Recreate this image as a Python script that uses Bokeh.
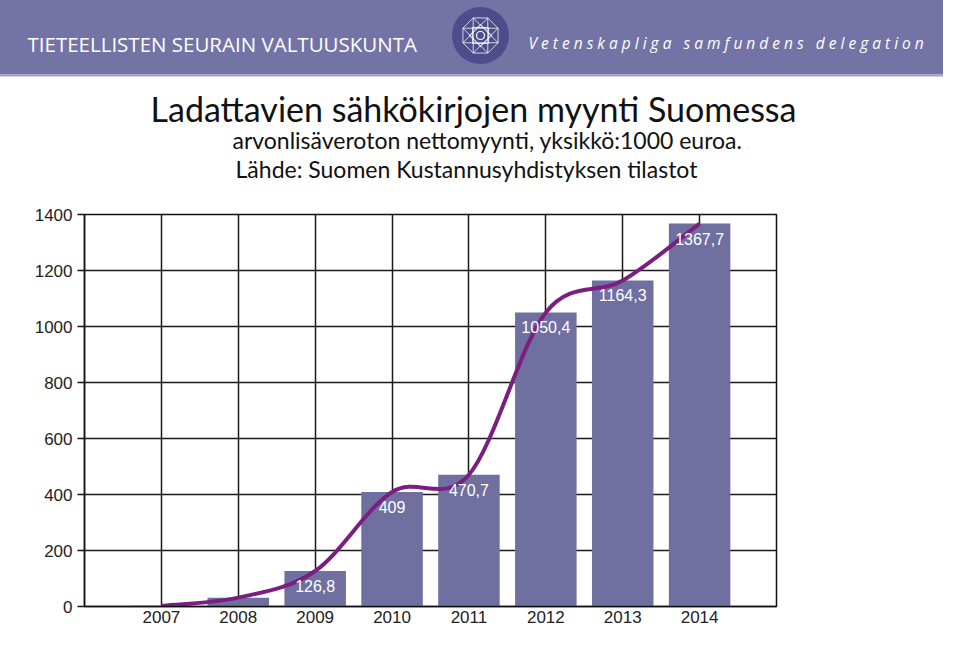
import math
from bokeh.plotting import figure
from bokeh.models import Range1d, FixedTicker, ColumnDataSource
from bokeh.core.properties import value
from bokeh.embed import file_html
from bokeh.resources import INLINE

# ---------------- data ----------------
years = [2007, 2008, 2009, 2010, 2011, 2012, 2013, 2014]
sales = [2.5, 31.6, 126.8, 409.0, 470.7, 1050.4, 1164.3, 1367.7]
bar_labels = ["", "", "126,8", "409", "470,7", "1050,4", "1164,3", "1367,7"]
year_labels = [str(y) for y in years]
y_ticks = [0, 200, 400, 600, 800, 1000, 1200, 1400]

title_text = "Ladattavien sähkökirjojen myynti Suomessa"
subtitle1 = "arvonlisäveroton nettomyynti, yksikkö:1000 euroa."
subtitle2 = "Lähde: Suomen Kustannusyhdistyksen tilastot"
org_fi = "TIETEELLISTEN SEURAIN VALTUUSKUNTA"
GAP = "\u00a0\u00a0\u00a0"
org_sv = GAP.join(" ".join(w) for w in ["Vetenskapliga", "samfundens", "delegation"])

BAND = "#7473A6"
LOGO = "#4E4D8C"
BAR = "#6F6FA0"
LINE = "#7A1F80"

W, H = 943, 629
FL, FR, FT, FB = 84, 776, 214, 606   # frame edges in canvas pixels
p = figure(width=W, height=H, x_range=Range1d(2006, 2015), y_range=Range1d(0, 1400),
           output_backend="svg", toolbar_location=None,
           min_border_left=FL, min_border_right=W - FR, min_border_top=FT, min_border_bottom=H - FB,
           background_fill_color="white", border_fill_color="white")
# canvas-pixel coordinate system for the header
p.extra_x_ranges = {"page": Range1d(FL, FR)}
p.extra_y_ranges = {"page": Range1d(FB, FT)}
PG = dict(x_range_name="page", y_range_name="page", level="overlay")

# ---------------- header ----------------
p.quad(left=[-10], right=[960], top=[-10], bottom=[74], fill_color=BAND, line_color=None, **PG)
p.quad(left=[-10], right=[960], top=[74], bottom=[76], fill_color="#A3A2C6", line_color=None, **PG)
p.ellipse(x=[480], y=[35], width=57, height=57, fill_color=LOGO, line_color=None, **PG)
cx, cy, r = 480, 35, 19
verts = [(cx + r * math.cos(math.radians(22.5 + 45 * k)), cy + r * math.sin(math.radians(22.5 + 45 * k))) for k in range(8)]
xs, ys = [], []
xs.append([v[0] for v in verts] + [verts[0][0]])
ys.append([v[1] for v in verts] + [verts[0][1]])
for k in range(8):
    a, b = verts[k], verts[(k + 3) % 8]
    xs.append([a[0], b[0]]); ys.append([a[1], b[1]])
sq = 8
xs.append([cx - sq, cx + sq, cx + sq, cx - sq, cx - sq]); ys.append([cy - sq, cy - sq, cy + sq, cy + sq, cy - sq])
xs.append([cx, cx + sq * 1.4, cx, cx - sq * 1.4, cx]); ys.append([cy - sq * 1.4, cy, cy + sq * 1.4, cy, cy - sq * 1.4])
p.multi_line(xs=xs, ys=ys, line_color="white", line_width=0.9, line_alpha=0.85, **PG)
p.ellipse(x=[cx], y=[cy], width=8, height=8, fill_color=None, line_color="white", line_width=1.2, **PG)

p.text(x=[27], y=[43], text=[org_fi], text_font=value("Open Sans"), text_font_size="20.5px",
       text_color="white", text_baseline="alphabetic", text_align="left", **PG)
p.text(x=[528], y=[42], text=[org_sv], text_font=value("Open Sans"), text_font_size="15.5px",
       text_font_style="italic", text_color="white", text_baseline="alphabetic", text_align="left", **PG)

p.text(x=[473], y=[108], text=[title_text], text_font=value("Lato"), text_font_size="34px",
       text_color="#111111", text_baseline="alphabetic", text_align="center", **PG)
p.text(x=[487], y=[139], text=[subtitle1], text_font=value("Lato"), text_font_size="23px",
       text_color="#111111", text_baseline="alphabetic", text_align="center", **PG)
p.text(x=[466], y=[168], text=[subtitle2], text_font=value("Lato"), text_font_size="23px",
       text_color="#111111", text_baseline="alphabetic", text_align="center", **PG)

# ---------------- chart ----------------
p.outline_line_color = "#111111"
p.outline_line_width = 1.5

p.xaxis.ticker = FixedTicker(ticks=years)
p.xaxis.major_label_overrides = {y: s for y, s in zip(years, year_labels)}
p.xaxis.major_tick_out = 0
p.xaxis.major_tick_in = 0
p.xaxis.minor_tick_line_color = None
p.xaxis.major_label_standoff = 4
p.yaxis.ticker = FixedTicker(ticks=y_ticks)
p.yaxis.major_tick_out = 7
p.yaxis.major_tick_in = 0
p.yaxis.minor_tick_line_color = None
p.yaxis.major_label_standoff = 5
for ax in (p.xaxis, p.yaxis):
    ax.axis_line_color = "#111111"
    ax.axis_line_width = 1.5
    ax.major_tick_line_color = "#111111"
    ax.major_tick_line_width = 1.5
    ax.major_label_text_font = "Liberation Sans"
    ax.major_label_text_font_size = "17px"
    ax.major_label_text_color = "#222222"

p.xgrid.ticker = FixedTicker(ticks=years)
p.ygrid.ticker = FixedTicker(ticks=y_ticks)
p.grid.grid_line_color = "#1a1a1a"
p.grid.grid_line_width = 1.5
p.grid.grid_line_alpha = 1.0

src = ColumnDataSource(dict(x=years, top=sales, lab=bar_labels))
p.vbar(x="x", top="top", width=0.8, source=src, fill_color=BAR, line_color=None)

# smooth curve (Catmull-Rom as cubic Bezier segments) through the data points
n = len(years)
seg = dict(x0=[], y0=[], x1=[], y1=[], cx0=[], cy0=[], cx1=[], cy1=[])
for i in range(n - 1):
    i0 = max(i - 1, 0)
    i3 = min(i + 2, n - 1)
    seg["x0"].append(years[i]); seg["y0"].append(sales[i])
    seg["x1"].append(years[i + 1]); seg["y1"].append(sales[i + 1])
    seg["cx0"].append(years[i] + (years[i + 1] - years[i0]) / 6)
    seg["cy0"].append(sales[i] + (sales[i + 1] - sales[i0]) / 6)
    seg["cx1"].append(years[i + 1] - (years[i3] - years[i]) / 6)
    seg["cy1"].append(sales[i + 1] - (sales[i3] - sales[i]) / 6)
p.bezier(source=ColumnDataSource(seg), x0="x0", y0="y0", x1="x1", y1="y1",
         cx0="cx0", cy0="cy0", cx1="cx1", cy1="cy1", line_color=LINE, line_width=4)

p.text(x="x", y="top", text="lab", source=src, text_align="center", text_baseline="middle",
       y_offset=15, text_color="white", text_font=value("Liberation Sans"), text_font_size="16px")

open("out.html", "w").write(file_html(p, INLINE))
